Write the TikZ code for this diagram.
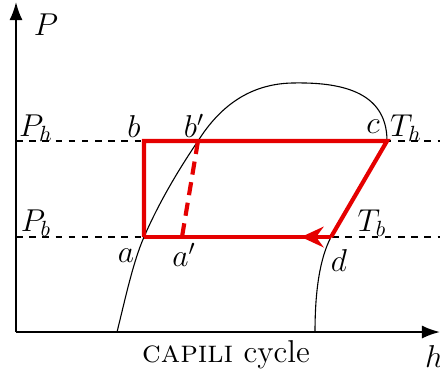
\documentclass[tikz,border=0pt]{standalone}
\usetikzlibrary{arrows.meta,decorations.markings}
\begin{document}
\begin{tikzpicture}[x=0.016cm,y=-0.016cm,font=\Large,
  axis/.style={line width=0.9pt,-{Latex[length=0.29cm,width=0.21cm]}},
  level/.style={dashed,line width=0.5pt},
  cycle/.style={red!90!black,line width=1.9pt,line join=miter},
  dome/.style={line width=0.5pt}]
\useasboundingbox (0,0) rectangle (440,376);
% axes
\coordinate (O) at (16,332);
\coordinate (Ptop) at (16,2);
\coordinate (hend) at (440,332);
\draw[axis] (O) -- (Ptop);
\draw[axis] (O) -- (hend);
\node at (46,25) {$P$};
\node at (434,357) {$h$};

% pressure levels
\coordinate (Phl) at (16,141);
\coordinate (Phr) at (440,141);
\coordinate (Pbl) at (16,237);
\coordinate (Pbr) at (440,237);
\draw[level] (Phl) -- (Phr);
\draw[level] (Pbl) -- (Pbr);
\node at (36,128) {$P_h$};
\node at (36,223) {$P_b$};

% states
\coordinate (a) at (144,237);
\coordinate (b) at (144,141);
\coordinate (c) at (387,141);
\coordinate (d) at (331,237);
\coordinate (bp) at (198,141);
\coordinate (ap) at (182,237);

% saturation dome
\coordinate (L0) at (117,332);
\coordinate (R0) at (315,332);
\draw[dome] (L0) .. controls (125,300) and (133,262) .. (a)
  .. controls (160,200) and (181,166) .. (bp)
  .. controls (220,106) and (250,84) .. (292,83)
  .. controls (338,82) and (387,90) .. (c);
\draw[dome] (d) .. controls (320,258) and (315,290) .. (R0);

% cycle
\draw[cycle] (a) -- (b) -- (c) -- (d);
\draw[cycle,postaction={decorate},
  decoration={markings,mark=at position 0.16 with {\arrow{Stealth[length=0.36cm,width=0.33cm,inset=0.12cm]}}}]
  (d) -- (a);
\draw[cycle,dash pattern=on 6pt off 3.5pt] (bp) -- (ap);

% labels
\node at (134,127) {$b$};
\node at (194,126) {$b'$};
\node at (373,127) {$c$};
\node at (406,128) {$T_h$};
\node at (372,223) {$T_b$};
\node at (126,256) {$a$};
\node at (184,255) {$a'$};
\node at (339,261) {$d$};
\node at (226,355) {\textsc{capili} cycle};
\end{tikzpicture}
\end{document}
